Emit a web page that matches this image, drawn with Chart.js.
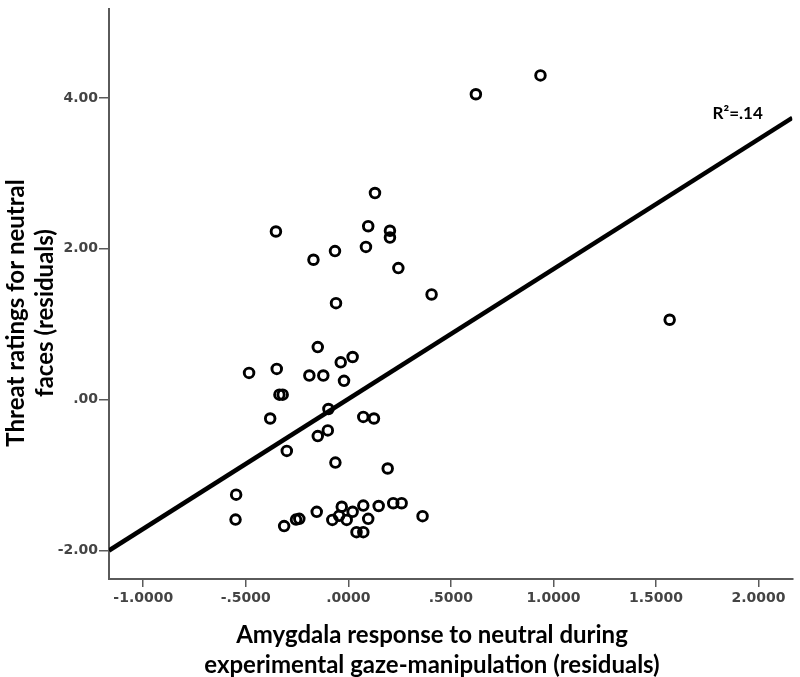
<!DOCTYPE html>
<html>
<head>
<meta charset="utf-8">
<script src="https://cdn.jsdelivr.net/npm/chart.js@4"></script>
<style>
  html, body { margin: 0; padding: 0; background: #fff; }
  #wrap { width: 800px; height: 677px; }
</style>
</head>
<body>
<div id="wrap"><canvas id="scatterChart"></canvas></div>
<script>
// amygdala response (x) and threat rating (y), residuals
const amygdala = [
    -0.353, -0.170, -0.065, -0.060, 0.086, 0.097, 0.130, 0.203, 0.203, 0.244,
    0.622, 0.937, 0.406, 1.567,
    -0.149, -0.484, -0.349, -0.190, -0.122, -0.037, 0.021, -0.021, -0.336, -0.320,
    -0.381, -0.097, 0.073, 0.125, -0.149, -0.100, -0.300, -0.063, 0.192,
    -0.547, -0.550, -0.313, -0.255, -0.239, -0.154, -0.078, -0.045, -0.032, -0.008,
    0.021, 0.073, 0.097, 0.148, 0.219, 0.260, 0.362, 0.040, 0.073
];
const threat = [
    2.23, 1.855, 1.97, 1.28, 2.026, 2.30, 2.74, 2.24, 2.15, 1.745,
    4.05, 4.30, 1.395, 1.06,
    0.697, 0.355, 0.408, 0.32, 0.32, 0.495, 0.566, 0.25, 0.066, 0.066,
    -0.25, -0.124, -0.229, -0.25, -0.483, -0.408, -0.68, -0.834, -0.913,
    -1.26, -1.59, -1.676, -1.59, -1.58, -1.487, -1.595, -1.54, -1.42, -1.595,
    -1.487, -1.404, -1.58, -1.41, -1.373, -1.373, -1.545, -1.757, -1.757
];

// fit line end points
const fitX = [-1.167, 2.165];
const fitY = [-2.0, 3.737];

const xTicks = [-1, -0.5, 0, 0.5, 1, 1.5, 2];
const yTicks = [-2, 0, 2, 4];

const xTitle = ['Amygdala response to neutral during', 'experimental gaze-manipulation (residuals)'];
const yTitle = ['Threat ratings for neutral', 'faces (residuals)'];
const r2Label = 'R²=.14';
const r2Pos = [1.776, 3.79];

// SPSS style: drop the leading zero
function spssNum(v, digits) {
    return v.toFixed(digits).replace(/^(-?)0\./, '$1.');
}

const axisColor = '#5a5a5a';
const tickFont = { family: 'DejaVu Sans', size: 14, weight: 'bold' };

const titlesPlugin = {
    id: 'titles',
    afterDraw(chart) {
        const ctx = chart.ctx;
        const xs = chart.scales.x;
        const ys = chart.scales.y;
        ctx.save();
        ctx.fillStyle = '#000';
        ctx.textAlign = 'center';
        ctx.textBaseline = 'middle';
        ctx.font = 'bold 24px Lato';
        ctx.fillText(xTitle[0], 432, 635);
        ctx.fillText(xTitle[1], 432, 665);

        ctx.translate(0, 313);
        ctx.rotate(-Math.PI / 2);
        ctx.fillText(yTitle[0], 0, 16);
        ctx.fillText(yTitle[1], 0, 45);
        ctx.restore();

        ctx.save();
        ctx.fillStyle = '#000';
        ctx.font = 'bold 17px Lato';
        ctx.textAlign = 'left';
        ctx.textBaseline = 'middle';
        ctx.fillText(r2Label, xs.getPixelForValue(r2Pos[0]), ys.getPixelForValue(r2Pos[1]));
        ctx.restore();
    }
};

const ctx = document.getElementById('scatterChart').getContext('2d');
new Chart(ctx, {
    type: 'scatter',
    data: {
        datasets: [{
            data: amygdala.map((x, i) => ({ x: x, y: threat[i] })),
            pointStyle: 'circle',
            pointRadius: 4.8,
            pointBorderWidth: 2.9,
            pointBorderColor: '#000',
            pointBackgroundColor: 'rgba(0,0,0,0)',
            order: 1
        }, {
            type: 'line',
            data: fitX.map((x, i) => ({ x: x, y: fitY[i] })),
            borderColor: '#000',
            borderWidth: 4.5,
            pointRadius: 0,
            fill: false,
            order: 2
        }]
    },
    options: {
        responsive: true,
        maintainAspectRatio: false,
        animation: false,
        layout: { padding: { left: 0, right: 7, top: 5, bottom: 0 } },
        plugins: {
            legend: { display: false },
            tooltip: { enabled: false }
        },
        scales: {
            x: {
                type: 'linear',
                min: -1.167,
                max: 2.165,
                afterBuildTicks: s => { s.ticks = xTicks.map(v => ({ value: v })); },
                afterFit: s => { s.height = 98; },
                grid: { drawOnChartArea: false, drawTicks: true, tickLength: 8, color: axisColor, lineWidth: 1.5 },
                border: { display: true, color: axisColor, width: 2 },
                ticks: {
                    color: '#444',
                    font: tickFont,
                    padding: 3,
                    maxRotation: 0,
                    callback: v => spssNum(v, 4)
                }
            },
            y: {
                type: 'linear',
                min: -2.378,
                max: 5.175,
                afterBuildTicks: s => { s.ticks = yTicks.map(v => ({ value: v })); },
                afterFit: s => { s.width = 109; },
                grid: { drawOnChartArea: false, drawTicks: true, tickLength: 10, color: axisColor, lineWidth: 1.5 },
                border: { display: true, color: axisColor, width: 2 },
                ticks: {
                    color: '#444',
                    font: tickFont,
                    padding: 1,
                    callback: v => spssNum(v, 2)
                }
            }
        }
    },
    plugins: [titlesPlugin]
});
</script>
</body>
</html>
